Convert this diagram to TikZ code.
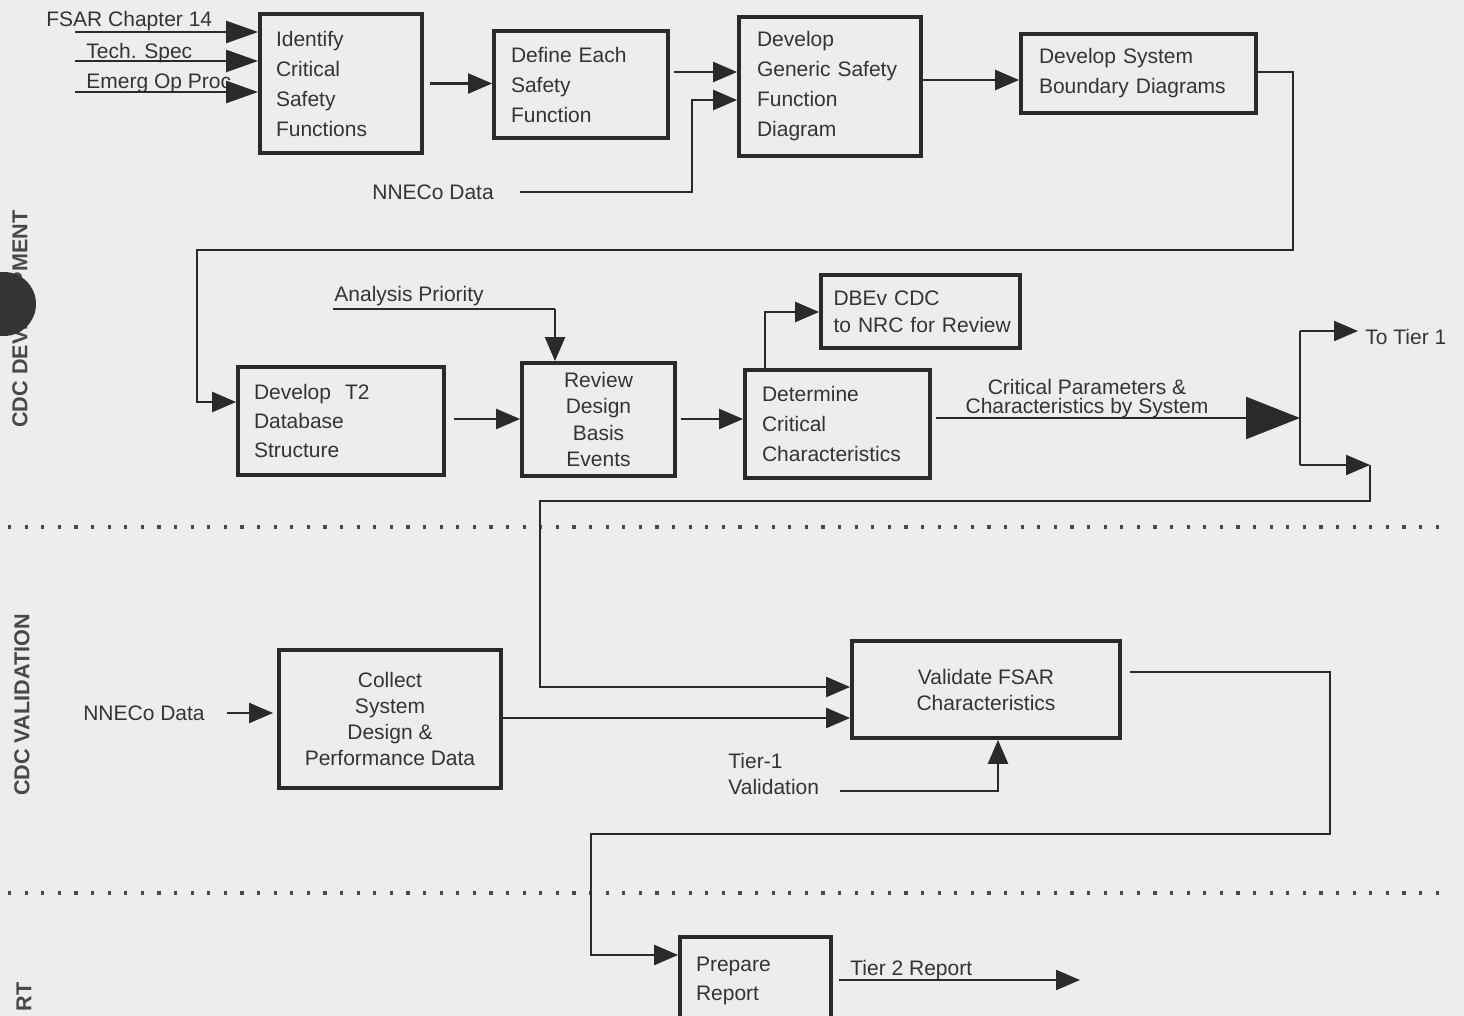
\documentclass[tikz,border=0pt]{standalone}
\usepackage{fontspec}
\setmainfont{Liberation Sans}
\usetikzlibrary{arrows.meta,calc}
\definecolor{bg}{RGB}{237,237,235}
\definecolor{ink}{RGB}{42,42,42}
\definecolor{txt}{RGB}{52,52,52}
\begin{document}
\begin{tikzpicture}[x=0.5pt,y=-0.5pt,
  box/.style={draw=ink, line width=1.9pt, inner ysep=0pt, text=txt,
    font=\fontsize{10.5}{15}\selectfont},
  lbl/.style={text=txt, inner sep=0pt, font=\fontsize{10.5}{13}\selectfont},
  side/.style={text=txt!90, inner sep=0pt, rotate=90, font=\bfseries\fontsize{10.8}{12}\selectfont},
  conn/.style={draw=ink, line width=1.2pt},
  arr/.style={conn, -{Triangle[length=12pt,width=10pt]}},
  inarr/.style={conn, -{Triangle[length=16pt,width=11pt]}},
  bigarr/.style={conn, -{Triangle[length=27pt,width=21pt]}},
  dotline/.style={draw=ink!85, line width=1.6pt, dash pattern=on 1.6pt off 6.7pt}
]
\fill[bg] (0,0) rectangle (1464,1016);
\useasboundingbox (0,0) rectangle (1464,1016);

% lane separators
\draw[dotline] (8,527) -- (1450,527);
\draw[dotline] (8,893) -- (1440,893);

% side labels
\node[side] (sdev) at (20,319) {CDC DEVELOPMENT};
\fill[ink!95] (4,304) circle (16pt);
\node[side] (sval) at (22,705) {CDC VALIDATION};
\node[side] (srep) at (24,997) {RT};

% boxes
\node[box, align=left, text width=65pt, inner xsep=8pt, minimum height=69.5pt] (b1) at (341,83.5) {Identify\\Critical\\Safety\\Functions};
\node[box, align=left, text width=70pt, inner xsep=8.5pt, minimum height=53.5pt] (b2) at (581,84.5) {Define Each\\Safety\\Function};
\node[box, align=left, text width=73pt, inner xsep=9pt, minimum height=69.5pt] (b3) at (830,86.5) {Develop\\Generic Safety\\Function\\Diagram};
\node[box, align=left, text width=99.5pt, inner xsep=9pt, minimum height=39.5pt] (b4) at (1138.5,73.5) {Develop System\\Boundary Diagrams};
\node[box, align=left, text width=87pt, inner xsep=8pt, minimum height=54pt, font=\fontsize{10.5}{14.5}\selectfont] (b5) at (341,421) {Develop\ \ T2\\Database\\Structure};
\node[box, align=center, minimum width=76.5pt, minimum height=56.5pt, font=\fontsize{10.5}{13.2}\selectfont] (b6) at (598.5,419.5) {Review\\Design\\Basis\\Events};
\node[box, align=left, text width=93pt, inner xsep=3.25pt, minimum height=36.5pt, font=\fontsize{10.5}{13.5}\selectfont] (b7) at (920.5,311.5) {\hspace*{3pt}DBEv CDC\\\hspace*{3pt}to NRC for Review};
\node[box, align=left, text width=75.5pt, inner xsep=8.5pt, minimum height=54pt] (b8) at (837.5,424) {Determine\\Critical\\Characteristics};
\node[box, align=center, minimum width=111pt, minimum height=69pt, font=\fontsize{10.5}{13}\selectfont] (b9) at (390,719) {Collect\\System\\Design \&\\Performance Data};
\node[box, align=center, minimum width=134pt, minimum height=48.5pt, font=\fontsize{10.5}{13}\selectfont] (b10) at (986,689.5) {Validate FSAR\\Characteristics};
\node[box, align=left, text width=59.5pt, inner xsep=8pt, minimum height=44pt, font=\fontsize{10.5}{14.5}\selectfont] (b11) at (755.5,981) {Prepare\\Report};

% input labels
\node[lbl, anchor=base west] (fsar) at (46,27) {FSAR Chapter 14};
\node[lbl, anchor=base west] (tech) at (86,59) {Tech. Spec};
\node[lbl, anchor=base west] (emerg) at (86,89) {Emerg Op Proc};
\node[lbl, anchor=west] (nn1) at (372,192) {NNECo Data};
\node[lbl, anchor=base west] (ap) at (334,302) {Analysis Priority};
\node[lbl, align=center, font=\fontsize{10.5}{9.5}\selectfont] (cp) at (1087,399) {Critical Parameters \&\\Characteristics by System};
\node[lbl, anchor=west] (tt) at (1365,337) {To Tier 1};
\node[lbl, anchor=center] (nn2) at (144,713) {NNECo Data};
\node[lbl, align=left, anchor=west] (tv) at (728,774) {Tier-1\\Validation};
\node[lbl, anchor=base west] (t2r) at (850,975) {Tier 2 Report};

% helper coordinates
\coordinate (i1) at (75,32);
\coordinate (i2) at (75,61);
\coordinate (i3) at (75,92);
\coordinate (r72) at (0,72);
\coordinate (r80) at (0,80);
\coordinate (k1) at (692,100);
\coordinate (k2) at (1293,250);
\coordinate (k3) at (197,402);
\coordinate (r419) at (0,419);
\coordinate (ap0) at (333,309);
\coordinate (k4) at (555,309);
\coordinate (k5) at (765,312);
\coordinate (j1) at (1300,418);
\coordinate (t1) at (1300,331);
\coordinate (t2) at (1300,465);
\coordinate (t3) at (1370,465);
\coordinate (k6) at (540,501);
\coordinate (k7) at (540,687);
\coordinate (r718) at (0,718);
\coordinate (tv0) at (840,791);
\coordinate (k8) at (998,791);
\coordinate (k9) at (1330,834);
\coordinate (k10) at (591,955);
\coordinate (e1) at (1080,980);

% connectors: development lane
\draw[inarr] (i1) -- (i1 -| b1.west);
\draw[inarr] (i2) -- (i2 -| b1.west);
\draw[inarr] (i3) -- (i3 -| b1.west);
\draw[arr, shorten <=3pt] (b1.east) -- (b1.east -| b2.west);
\draw[arr, shorten <=2pt] (b2.east |- r72) -- (b3.west |- r72);
\draw[arr] ([xshift=13pt]nn1.east) -| (k1) -- (k1 -| b3.west);
\draw[arr] (b3.east |- r80) -- (b4.west |- r80);
\draw[arr] ($(b4.east)+(0,-1.5)$) -| (k2) -| (k3) -- (k3 -| b5.west);
\draw[arr, shorten <=4pt] (b5.east |- r419) -- (b6.west |- r419);
\draw[conn] (ap0) -- (k4);
\draw[arr] (k4) -- (k4 |- b6.north);
\draw[arr, shorten <=2pt] (b6.east |- r419) -- (b8.west |- r419);
\draw[arr] (k5 |- b8.north) -- (k5) -- (k5 -| b7.west);
\draw[bigarr, shorten <=2pt] (b8.east |- j1) -- (j1);
\draw[conn] (t1) -- (t2);
\draw[arr, shorten >=3.5pt] (t1) -- (t1 -| tt.west);
\draw[arr] (t2) -- (t3);

% validation lane
\draw[arr] (t3) |- (k6) -- (k7) -- (k7 -| b10.west);
\draw[arr, shorten >=2pt] ([xshift=11pt]nn2.east) -- (nn2.east -| b9.west);
\draw[arr] (b9.east |- r718) -- (b10.west |- r718);
\draw[arr] (tv0) -- (k8) -- (k8 |- b10.south);
\draw[arr] ($(b10.east)+(8,-17.5)$) -| (k9) -| (k10) -- (k10 -| b11.west);

% report lane
\draw[arr, shorten <=3pt] (b11.east |- e1) -- (e1);
\end{tikzpicture}
\end{document}
